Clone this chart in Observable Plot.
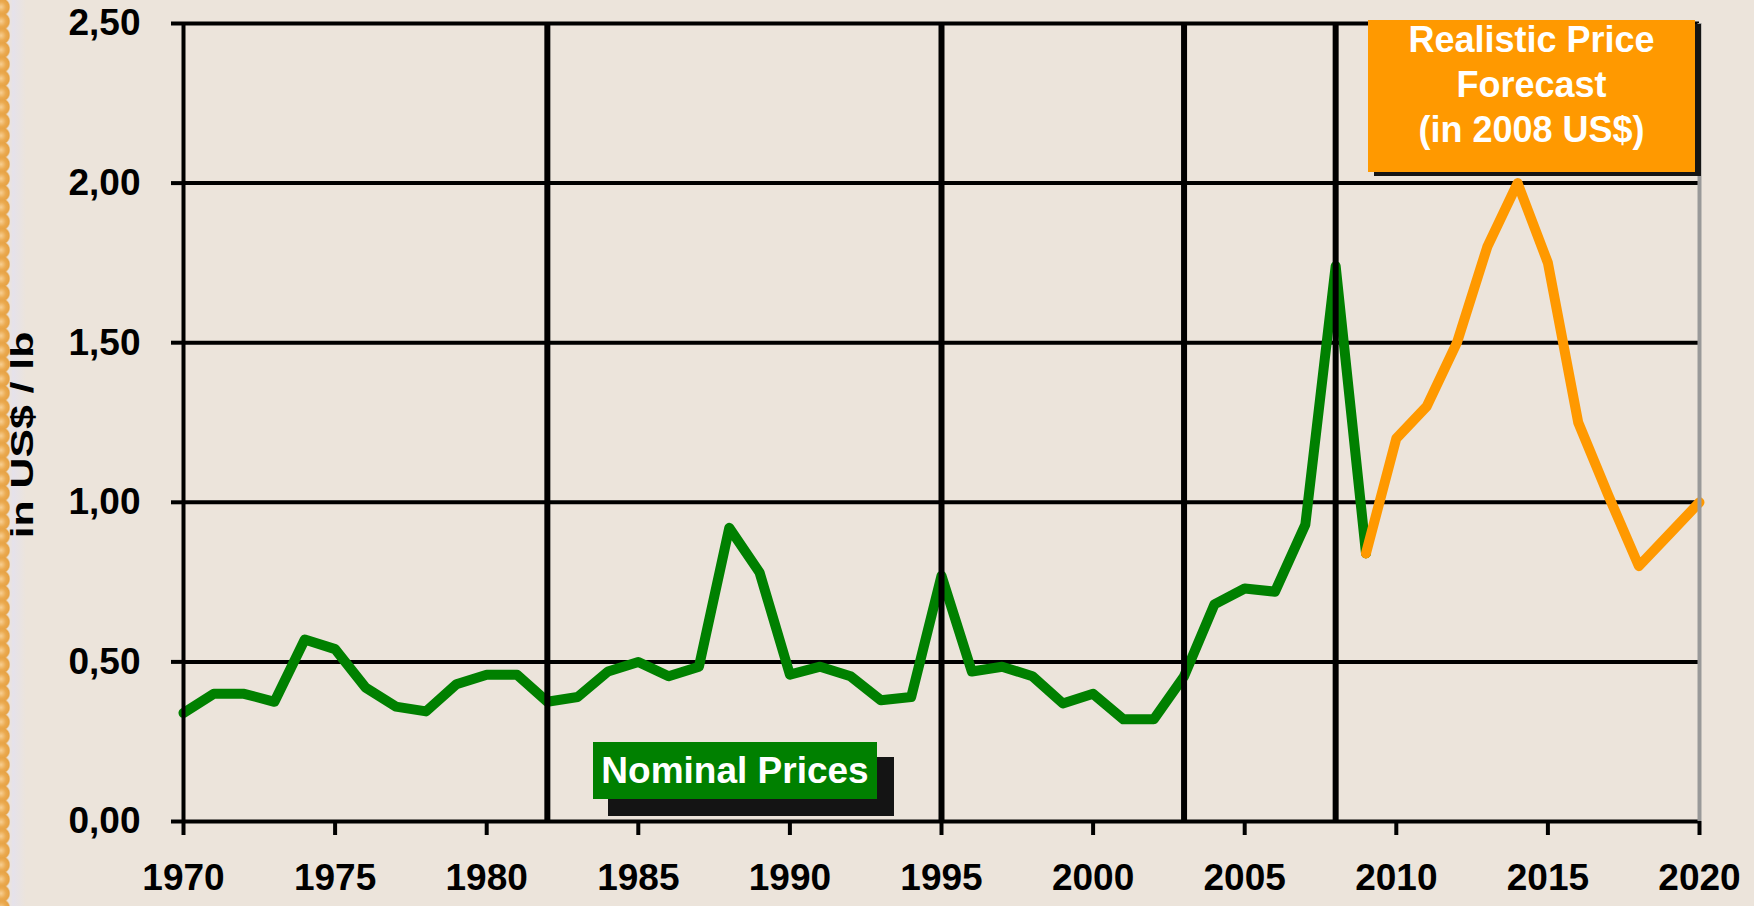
<!DOCTYPE html>
<html>
<head>
<meta charset="utf-8">
<script src="https://cdn.jsdelivr.net/npm/d3@7"></script>
<script src="https://cdn.jsdelivr.net/npm/@observablehq/plot@0.6"></script>
<style>
html, body { margin: 0; padding: 0; background: #ECE4DB; width: 1754px; height: 906px; overflow: hidden;
  font-family: "Liberation Sans", Arial, sans-serif; }
#wrap { position: relative; width: 1754px; height: 906px; }
#edge { position: absolute; left: 0; top: 0; width: 26px; height: 906px; z-index: 0;
  background:
    radial-gradient(circle at 1px 7px, #F7CF92 0, #EBAA50 5px, #E6A244 8px, rgba(236,228,219,0) 9.5px) 0 0 / 14px 14.3px repeat-y,
    linear-gradient(to right, rgba(236,228,219,0) 0, rgba(236,228,219,0) 9px, #E5E2EB 13px, #ECE4DB 26px); }
#chart { position: relative; z-index: 1; }
.box { position: absolute; z-index: 2; color: #fff; font-weight: bold; text-align: center; white-space: nowrap; }
</style>
</head>
<body>
<div id="wrap">
  <div id="edge"></div>
  <div id="chart"></div>
</div>
<script>
// ---- data ----
const nominalYears = [1970, 1971, 1972, 1973, 1974, 1975, 1976, 1977, 1978, 1979,
                      1980, 1981, 1982, 1983, 1984, 1985, 1986, 1987, 1988, 1989,
                      1990, 1991, 1992, 1993, 1994, 1995, 1996, 1997, 1998, 1999,
                      2000, 2001, 2002, 2003, 2004, 2005, 2006, 2007, 2008, 2009];
const nominalPrices = [0.34, 0.40, 0.40, 0.375, 0.57, 0.54, 0.42, 0.36, 0.345, 0.43,
                       0.46, 0.46, 0.375, 0.39, 0.47, 0.50, 0.455, 0.485, 0.92, 0.78,
                       0.46, 0.485, 0.455, 0.38, 0.39, 0.77, 0.47, 0.485, 0.455, 0.37,
                       0.40, 0.32, 0.32, 0.455, 0.68, 0.73, 0.72, 0.93, 1.74, 0.84];
const forecastYears = [2009, 2010, 2011, 2012, 2013, 2014, 2015, 2016, 2017, 2018, 2019, 2020];
const forecastPrices = [0.84, 1.20, 1.30, 1.50, 1.80, 2.00, 1.75, 1.25, 1.02, 0.80, 0.90, 1.00];
const xTicks = [1970, 1975, 1980, 1985, 1990, 1995, 2000, 2005, 2010, 2015, 2020];
const yTicks = [0, 0.5, 1.0, 1.5, 2.0, 2.5];
const markerYears = [1982, 1995, 2003, 2008];
const yAxisTitle = "in US$ / lb";
const nominalLabel = "Nominal Prices";
const forecastLabel = ["Realistic Price", "Forecast", "(in 2008 US$)"];

const nominal = nominalYears.map((year, i) => ({year, price: nominalPrices[i]}));
const forecast = forecastYears.map((year, i) => ({year, price: forecastPrices[i]}));
const font = "'Liberation Sans', Arial, sans-serif";

const W = 1754, H = 906, mL = 183, mR = 55, mT = 23, mB = 85;

const plot = Plot.plot({
  width: W,
  height: H,
  marginLeft: mL,
  marginRight: mR,
  marginTop: mT,
  marginBottom: mB,
  style: {background: "transparent", fontFamily: font, fontSize: "37px", fontWeight: "bold", color: "#000", overflow: "visible"},
  x: {domain: [xTicks[0], xTicks[xTicks.length - 1]]},
  y: {domain: [yTicks[0], yTicks[yTicks.length - 1]]},
  marks: [
    Plot.ruleY(yTicks, {stroke: "#000", strokeWidth: 4}),
    Plot.axisY({ticks: yTicks, tickSize: 12, tickPadding: 31, strokeWidth: 4, stroke: "#000",
      tickFormat: d => d.toFixed(2).replace(".", ","), label: null, fontSize: 37, fontWeight: "bold", fill: "#000"}),
    Plot.axisX({ticks: xTicks, tickSize: 14, tickPadding: 28, strokeWidth: 4, stroke: "#000",
      tickFormat: d => String(d), label: null, fontSize: 37, fontWeight: "bold", fill: "#000"}),
    Plot.line(nominal, {x: "year", y: "price", stroke: "#008000", strokeWidth: 10,
      strokeLinejoin: "round", strokeLinecap: "round"}),
    Plot.line(forecast, {x: "year", y: "price", stroke: "#FF9900", strokeWidth: 10,
      strokeLinejoin: "round", strokeLinecap: "round"}),
    Plot.ruleX(markerYears, {stroke: "#000", strokeWidth: 6}),
    Plot.ruleX([xTicks[0]], {stroke: "#000", strokeWidth: 4}),
    Plot.ruleX([xTicks[xTicks.length - 1]], {stroke: "#999", strokeWidth: 4}),
    Plot.text([yAxisTitle], {text: d => d, frameAnchor: "left", textAnchor: "middle", lineAnchor: "middle",
      dx: -158, dy: 13, rotate: -90,
      fontSize: 31, fontWeight: "bold", fill: "#000", className: "ytitle"})
  ]
});
document.getElementById("chart").appendChild(plot);

// stretch the y title along its length, as in the original
const titleX = mL - 150, titleY = (mT + (H - mB)) / 2 + 13;
const titleG = plot.querySelector(".ytitle");
if (titleG) {
  titleG.removeAttribute("transform");
  titleG.setAttribute("text-anchor", "middle");
  titleG.querySelectorAll("text").forEach(t => {
    t.removeAttribute("x");
    t.removeAttribute("y");
    t.setAttribute("text-anchor", "middle");
    t.setAttribute("transform", `translate(${titleX},${titleY}) rotate(-90) scale(1.38,1)`);
  });
}

// annotation boxes
const wrap = document.getElementById("wrap");
const fc = document.createElement("div");
fc.className = "box";
Object.assign(fc.style, {left: "1368px", top: "20px", width: "327px", height: "152px",
  background: "#FF9900", boxShadow: "6px 4px 0 #141414", fontSize: "36px", lineHeight: "45px"});
const fcInner = document.createElement("div");
Object.assign(fcInner.style, {position: "relative", top: "-3px"});
forecastLabel.forEach(line => {
  const s = document.createElement("div");
  s.textContent = line;
  fcInner.appendChild(s);
});
fc.appendChild(fcInner);
wrap.appendChild(fc);

const nm = document.createElement("div");
nm.className = "box";
Object.assign(nm.style, {left: "593px", top: "742px", width: "284px", height: "57px",
  background: "#008000", boxShadow: "16px 16px 0 1px #141414", fontSize: "37px", lineHeight: "57px"});
nm.textContent = nominalLabel;
wrap.appendChild(nm);
</script>
</body>
</html>
